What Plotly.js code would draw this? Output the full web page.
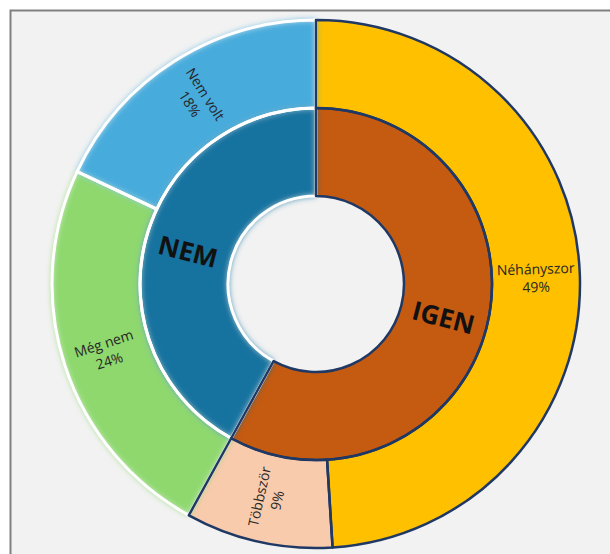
<!DOCTYPE html>
<html>
<head>
<meta charset="utf-8">
<script src="https://cdn.plot.ly/plotly-3.0.1.min.js"></script>
<style>html,body{margin:0;padding:0;background:#fff;}#chart{width:610px;height:554px;}</style>
</head>
<body>
<svg width="0" height="0" style="position:absolute">
  <defs>
    <filter id="softblur" x="-30%" y="-30%" width="160%" height="160%">
      <feGaussianBlur stdDeviation="3"/>
    </filter>
  </defs>
</svg>
<div id="chart"></div>
<script>
// ---- data ----
const innerLabels = ['IGEN', 'NEM'];
const innerValues = [58, 42];
const outerLabels = ['Néhányszor', 'Többször', 'Még nem', 'Nem volt'];
const outerValues = [49, 9, 24, 18];

// ---- styles ----
const innerColors = ['#C55A11', '#13729F'];
const outerColors = ['#FFC000', '#F8CBAD', '#8ED86E', '#46ABDC'];
const innerBlur = [false, true];
const outerBlur = [false, false, true, true];
const NAVY = '#1F3864';
const CLEAR = 'rgba(0,0,0,0)';

const W = 610, H = 554;
const cx = 316, cy = 284, R_OUT = 264, R_MID = 176, R_HOLE = 88;
function dom(r) {
  return {
    x: [(cx - r) / W, (cx + r) / W],
    y: [(H - cy - r) / H, (H - cy + r) / H]
  };
}
const base = {
  type: 'pie', sort: false, direction: 'clockwise', rotation: 0,
  showlegend: false, hoverinfo: 'skip', textinfo: 'none'
};
function ring(labels, values, r, hole, extra) {
  return Object.assign({}, base, {labels: labels, values: values, domain: dom(r), hole: hole}, extra);
}
const outerHole = R_MID / R_OUT, innerHole = R_HOLE / R_MID;

const traces = [
  // fills
  ring(outerLabels, outerValues, R_OUT, outerHole, {
    marker: {colors: outerColors, line: {width: 0}}}),
  ring(innerLabels, innerValues, R_MID, innerHole, {
    marker: {colors: innerColors, line: {width: 0}}}),
  // white separators (NEM side)
  ring(outerLabels, outerValues, R_OUT, outerHole, {
    marker: {colors: outerLabels.map(() => CLEAR),
             line: {color: 'white', width: outerBlur.map(b => b ? 3 : 0)}}}),
  ring(innerLabels, innerValues, R_MID, innerHole, {
    marker: {colors: innerLabels.map(() => CLEAR),
             line: {color: 'white', width: innerBlur.map(b => b ? 3 : 0)}}}),
  // navy outlines (IGEN side)
  ring(outerLabels, outerValues, R_OUT, outerHole, {
    marker: {colors: outerLabels.map(() => CLEAR),
             line: {color: NAVY, width: outerBlur.map(b => b ? 0 : 2.5)}}}),
  ring(innerLabels, innerValues, R_MID, innerHole, {
    marker: {colors: innerLabels.map(() => CLEAR),
             line: {color: NAVY, width: innerBlur.map(b => b ? 0 : 2.5)}}})
];

// radial labels at the middle of each slice, derived from the data
function radialLabels(labels, values, rIn, rOut, fmt, font) {
  const total = values.reduce((a, b) => a + b, 0);
  let cum = 0;
  return labels.map(function (lab, i) {
    const mid = (cum + values[i] / 2) / total * 360;
    cum += values[i];
    const rad = mid * Math.PI / 180;
    const rr = (rIn + rOut) / 2;
    let ang = mid - 90;
    while (ang > 90) ang -= 180;
    while (ang <= -90) ang += 180;
    return {
      xref: 'paper', yref: 'paper',
      x: (cx + rr * Math.sin(rad)) / W,
      y: (H - (cy - rr * Math.cos(rad))) / H,
      xanchor: 'center', yanchor: 'middle',
      text: fmt(lab, values[i], total),
      textangle: ang, showarrow: false, font: font
    };
  });
}
const annotations = []
  .concat(radialLabels(outerLabels, outerValues, R_MID, R_OUT,
    (l, v, t) => l + '<br>' + Math.round(v / t * 100) + '%',
    {family: 'Open Sans, sans-serif', size: 14, color: '#262626'}))
  .concat(radialLabels(innerLabels, innerValues, R_HOLE, R_MID,
    (l) => '<b>' + l + '</b>',
    {family: 'Open Sans, sans-serif', size: 26, color: '#111111'}));

const layout = {
  width: W, height: H,
  margin: {l: 0, r: 0, t: 0, b: 0},
  paper_bgcolor: '#FFFFFF',
  annotations: annotations,
  shapes: [{
    type: 'rect', xref: 'paper', yref: 'paper', layer: 'below',
    x0: 10.5 / W, x1: 1.05, y0: -0.05, y1: 1 - 10.5 / H,
    line: {color: '#808080', width: 2}, fillcolor: '#F2F2F2'
  }]
};

function applyBlur() {
  const gd = document.getElementById('chart');
  const tr = gd.querySelectorAll('.pielayer .trace');
  const flags = [outerBlur, innerBlur];
  [0, 1].forEach(function (ti) {
    if (!tr[ti]) return;
    const slices = tr[ti].querySelectorAll('g.slice');
    slices.forEach(function (s, i) {
      if (flags[ti][i]) {
        s.querySelectorAll('path').forEach(function (p) {
          p.setAttribute('filter', 'url(#softblur)');
        });
      }
    });
  });
}

const gdiv = document.getElementById('chart');
Plotly.newPlot(gdiv, traces, layout, {displayModeBar: false, staticPlot: true}).then(function () {
  applyBlur();
  gdiv.on('plotly_afterplot', applyBlur);
  setTimeout(applyBlur, 50);
  setTimeout(applyBlur, 300);
});
applyBlur();
</script>
</body>
</html>
